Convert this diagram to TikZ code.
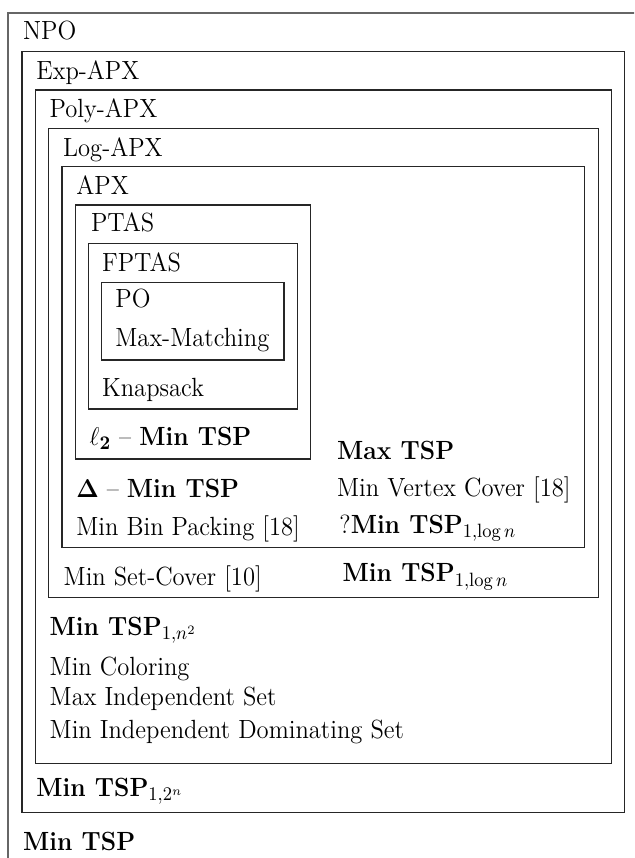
\documentclass[tikz,border=0pt]{standalone}
\usepackage{amsmath}
\usepackage{graphicx}
% labels are set slightly tall
\newcommand{\tallx}[1]{\scalebox{1}[1.07]{#1}}
\begin{document}
\begin{tikzpicture}[x=0.5pt,y=-0.5pt,
  classbox/.style={draw=black!85, line width=0.75pt},
  outerbox/.style={draw=black!60, line width=0.9pt},
  lbl/.style={anchor=base west, inner sep=0pt, font=\fontsize{12.3}{14}\selectfont}]
\useasboundingbox (0,0) rectangle (634,858);
\clip (0,0) rectangle (634,858);

% nested approximation classes
\draw[outerbox] (8.3,12.7) rectangle (700,900);
\draw[classbox] (22,51.7) rectangle (624.7,812.3);
\draw[classbox] (35.3,90) rectangle (611.7,763.3);
\draw[classbox] (48.7,128.3) rectangle (598.3,597.7);
\draw[classbox] (62,166.7) rectangle (584.7,547.3);
\draw[classbox] (75.3,205) rectangle (310.3,459);
\draw[classbox] (88.3,243.3) rectangle (297.3,409);
\draw[classbox] (101.7,282.3) rectangle (284,360);

% class names
\node[lbl] (npo)   at (22.7,39.5)  {\tallx{NPO}};
\node[lbl] (exp)   at (36,79)      {\tallx{Exp-APX}};
\node[lbl] (poly)  at (49.3,117)   {\tallx{Poly-APX}};
\node[lbl] (log)   at (62.7,156)   {\tallx{Log-APX}};
\node[lbl] (apx)   at (76,194)     {\tallx{APX}};
\node[lbl] (ptas)  at (90.7,231.7) {\tallx{PTAS}};
\node[lbl] (fptas) at (101.7,271)  {\tallx{FPTAS}};
\node[lbl] (po)    at (115,307.3)  {\tallx{PO}};

% problems
\node[lbl] (mm)    at (115,346.7)  {\tallx{Max-Matching}};
\node[lbl] (knap)  at (101.7,396.7){\tallx{Knapsack}};
\node[lbl] (l2)    at (89.3,445.5) {\tallx{$\ell_{\mathbf{2}}$ -- \textbf{Min TSP}}};
\node[lbl] (maxtsp) at (336.7,459.3) {\tallx{\textbf{Max TSP}}};
\node[lbl] (delta) at (76,497.7)   {\tallx{$\mathbf{\Delta}$ -- \textbf{Min TSP}}};
\node[lbl] (mvc)   at (336.7,496.7){\tallx{Min Vertex Cover [18]}};
\node[lbl] (mbp)   at (76,535.7)   {\tallx{Min Bin Packing [18]}};
\node[lbl] (qlog)  at (339,533.3)  {\tallx{?$\textbf{Min TSP}_{1,\log n}$}};
\node[lbl] (msc)   at (63.3,585)   {\tallx{Min Set-Cover [10]}};
\node[lbl] (tsplog) at (342.3,581.7) {\tallx{$\textbf{Min TSP}_{1,\log n}$}};
\node[lbl] (tspsq) at (49.3,635)   {\tallx{$\textbf{Min TSP}_{1,n^2}$}};
\node[lbl] (mcol)  at (49.3,675)   {\tallx{Min Coloring}};
\node[lbl] (mis)   at (49.3,705.5) {\tallx{Max Independent Set}};
\node[lbl] (mids)  at (49.3,738.3) {\tallx{Min Independent Dominating Set}};
\node[lbl] (tspexp) at (36,796.7)  {\tallx{$\textbf{Min TSP}_{1,2^n}$}};
\node[lbl] (tsp)   at (22.7,850)   {\tallx{\textbf{Min TSP}}};
\end{tikzpicture}
\end{document}
